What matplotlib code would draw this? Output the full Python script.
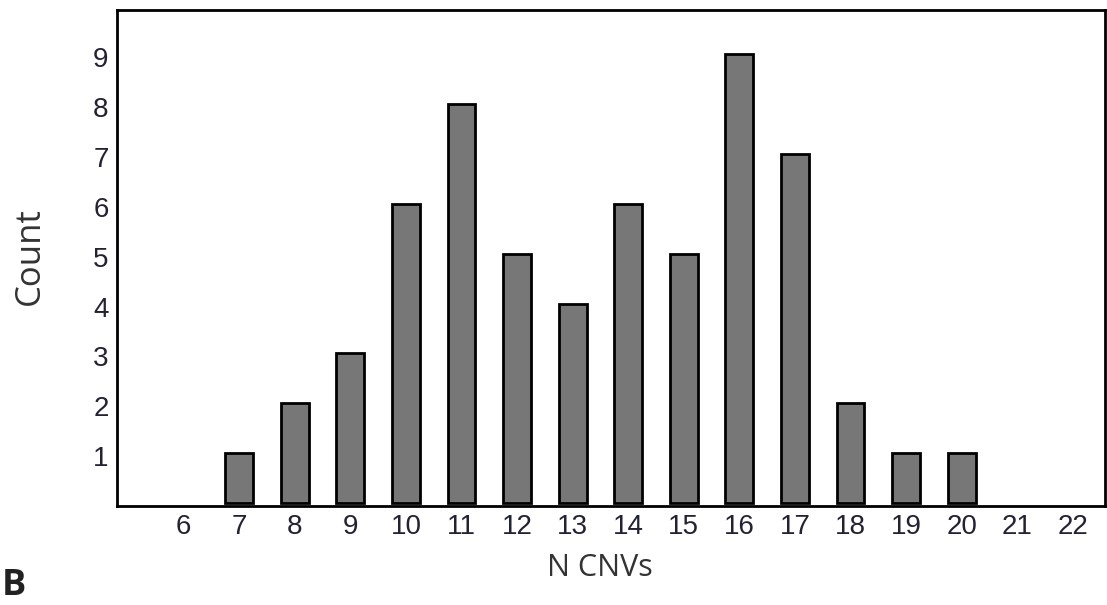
import matplotlib
matplotlib.use("Agg")
import matplotlib.pyplot as plt

# number of CNVs per sample and how many samples have it
n_cnvs = [6, 7, 8, 9, 10, 11, 12, 13, 14, 15, 16, 17, 18, 19, 20, 21, 22]
counts = [0, 1, 2, 3, 6, 8, 5, 4, 6, 5, 9, 7, 2, 1, 1, 0, 0]
y_ticks = [1, 2, 3, 4, 5, 6, 7, 8, 9]

fig = plt.figure(figsize=(11.07, 6.05), dpi=100)
ax = fig.add_axes([117 / 1107, 1 - 506 / 605, (1105 - 117) / 1107, (506 - 10) / 605])

bars = [(x, c) for x, c in zip(n_cnvs, counts) if c > 0]
ax.bar([b[0] for b in bars], [b[1] for b in bars], width=0.5, bottom=0.06,
       color="#777777", edgecolor="black", linewidth=2)

ax.set_xlim(4.8, 22.58)
ax.set_ylim(0, 9.95)
ax.set_xticks(n_cnvs)
ax.set_xticklabels([str(x) for x in n_cnvs])
ax.set_yticks(y_ticks)
ax.tick_params(length=0, labelsize=20, pad=6)
for lbl in ax.get_xticklabels() + ax.get_yticklabels():
    lbl.set_family("Liberation Sans")
    lbl.set_color("#222233")
for s in ax.spines.values():
    s.set_linewidth(2)

fig.text(600 / 1107, 1 - 568 / 605, "N CNVs", fontsize=22, family="Open Sans",
         color="#333333", ha="center", va="center")
fig.text(30 / 1107, 1 - 256 / 605, "Count", fontsize=25, family="Open Sans",
         color="#333333", ha="center", va="center", rotation=90)
fig.text(2 / 1107, 1 / 605, "B", fontsize=26, family="Open Sans", weight="bold",
         color="#222222", ha="left", va="bottom")

fig.savefig("out.png", dpi=100)
